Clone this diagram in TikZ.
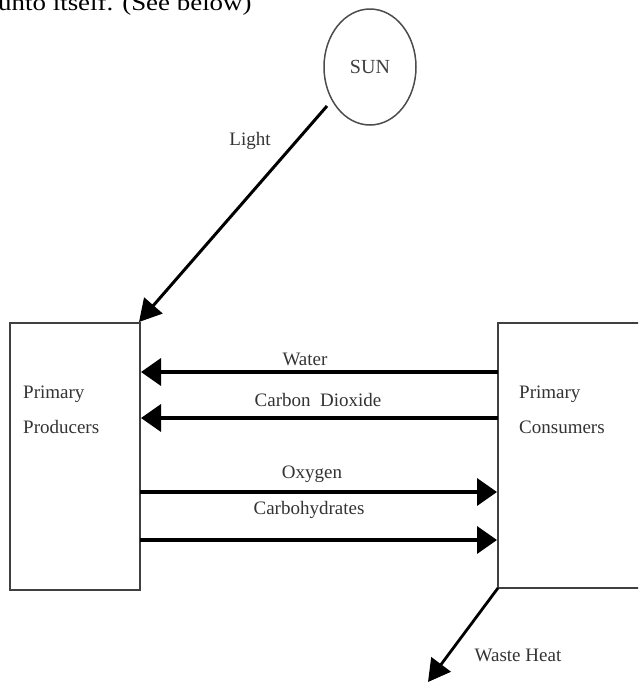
\documentclass[tikz,border=0pt]{standalone}
\usepackage{fontspec}
\setmainfont{Liberation Serif}
\usetikzlibrary{arrows.meta,shapes.geometric}
\begin{document}
\begin{tikzpicture}[x=1pt,y=-1pt,
  boxst/.style={draw=black!75,line width=1.8pt,fill=white},
  flow/.style={line width=3.6pt,-{Triangle[length=20pt,width=27pt]}},
  lbl/.style={font=\fontsize{19}{19}\selectfont,text=black!80,inner sep=0pt}]
\useasboundingbox (0,0) rectangle (638,686);
\clip (0,0) rectangle (638,686);
% heading fragment
\node[anchor=base west,inner sep=0pt,font=\fontsize{23}{23}\selectfont,xscale=1.17] (head) at (-2,10) {unto itself. (See below)};
% sun
\node[draw=black!70,line width=1.5pt,ellipse,minimum width=92pt,minimum height=116pt,inner sep=0pt,
      font=\fontsize{20}{20}\selectfont,text=black!75] (sun) at (370,67) {SUN};
% boxes
\draw[boxst] (10,323) rectangle (140,590);
\draw[boxst] (498,323) rectangle (660,588);
\node[lbl,anchor=north west,align=left] (prod) at (23,386) {Primary\\[16pt]Producers};
\node[lbl,anchor=north west,align=left] (cons) at (519,386) {Primary\\[16pt]Consumers};
% coordinates of arrow ends
\coordinate (pp) at (139,322);
\coordinate (wR) at (498,372); \coordinate (wL) at (141,372);
\coordinate (cR) at (498,418); \coordinate (cL) at (141,418);
\coordinate (oL) at (140,492); \coordinate (oR) at (497,492);
\coordinate (hL) at (140,540); \coordinate (hR) at (497,540);
\coordinate (sunout) at (327,106);
\coordinate (wasteS) at (498,588);
\coordinate (wasteE) at (428,682);
% arrows
\draw[flow,line width=3pt,-{Triangle[length=22pt,width=24pt]}] (sunout) -- (pp);
\draw[flow] (wR) -- (wL);
\draw[flow] (cR) -- (cL);
\draw[flow] (oL) -- (oR);
\draw[flow] (hL) -- (hR);
\draw[flow,line width=2.8pt,-{Triangle[length=22pt,width=24pt]}] (wasteS) -- (wasteE);
% labels
\node[lbl] (light) at (250,141) {Light};
\node[lbl] (water) at (305,359) {Water};
\node[lbl] (co2) at (318,400) {Carbon\ \ Dioxide};
\node[lbl] (oxy) at (312,474) {Oxygen};
\node[lbl] (carb) at (309,510) {Carbohydrates};
\node[lbl] (heat) at (518,655) {Waste Heat};
\end{tikzpicture}
\end{document}
